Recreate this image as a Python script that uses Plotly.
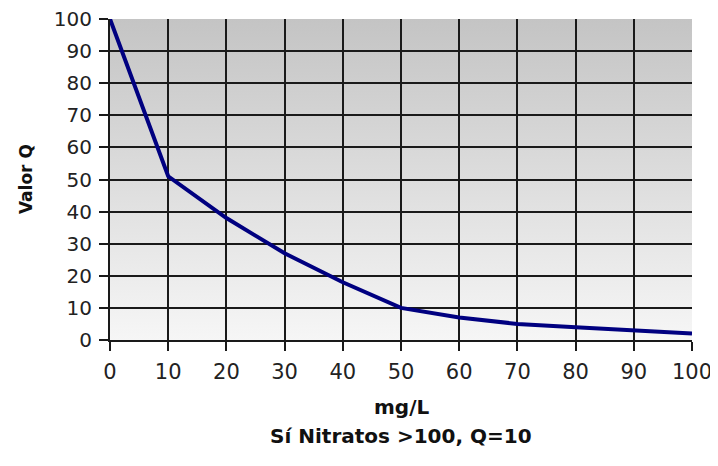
import base64
import plotly.graph_objects as go

mg_l = [0, 10, 20, 30, 40, 50, 60, 70, 80, 90, 100]
valor_q = [100, 51, 38, 27, 18, 10, 7, 5, 4, 3, 2]
x_range = [0, 100]
y_range = [0, 100]

# vertical gradient background as an inline SVG image
svg = ('<svg xmlns="http://www.w3.org/2000/svg" width="100" height="100" preserveAspectRatio="none">'
       '<defs><linearGradient id="g" x1="0" y1="0" x2="0" y2="1">'
       '<stop offset="0" stop-color="#c4c4c4"/><stop offset="1" stop-color="#f6f6f6"/>'
       '</linearGradient></defs><rect width="100" height="100" fill="url(#g)"/></svg>')
bg_src = "data:image/svg+xml;base64," + base64.b64encode(svg.encode()).decode()

fig = go.Figure()
fig.add_trace(go.Scatter(
    x=mg_l, y=valor_q, mode="lines",
    line=dict(color="#000080", width=4),
    showlegend=False,
))

font_family = "DejaVu Sans, Verdana, sans-serif"
axis_common = dict(
    tick0=0, dtick=10, showgrid=True,
    gridcolor="#1a1a1a", gridwidth=2, ticks="outside",
    ticklen=9, tickwidth=2, tickcolor="#1a1a1a",
    showline=True, linecolor="#1a1a1a", linewidth=2,
    zeroline=False, automargin=False, ticklabelstandoff=3,
    ticklabeloverflow="allow",
)
fig.update_layout(
    width=718, height=466,
    margin=dict(l=102, r=34, t=11, b=134),
    paper_bgcolor="white", plot_bgcolor="rgba(0,0,0,0)",
    font=dict(family=font_family, color="#222222", size=21),
    xaxis=dict(range=x_range, tickfont=dict(size=21, color="#222222"), **axis_common),
    yaxis=dict(range=y_range, tickfont=dict(size=20, color="#222222"), **axis_common),
    images=[dict(source=bg_src, xref="x", yref="y", x=x_range[0], y=y_range[1],
                 sizex=x_range[1] - x_range[0], sizey=y_range[1] - y_range[0],
                 sizing="stretch", layer="below", xanchor="left", yanchor="top")],
    shapes=[dict(type="rect", xref="x", yref="y",
                 x0=x_range[0], x1=x_range[1], y0=y_range[0], y1=y_range[1],
                 line=dict(color="#888888", width=2), layer="below")],
    annotations=[
        dict(text="<b>Valor Q</b>", xref="paper", yref="paper", x=-0.145, y=0.5,
             textangle=-90, showarrow=False, font=dict(size=17, color="#111111"),
             xanchor="center", yanchor="middle"),
        dict(text="<b>mg/L</b>", xref="paper", yref="paper", x=0.5, y=-0.21,
             showarrow=False, font=dict(size=20, color="#111111"),
             yanchor="middle"),
        dict(text="<b>Sí Nitratos >100, Q=10</b>", xref="paper", yref="paper",
             x=0.5, y=-0.30, showarrow=False,
             font=dict(size=20, color="#111111"), yanchor="middle"),
    ],
)
fig.write_html("out.html")
